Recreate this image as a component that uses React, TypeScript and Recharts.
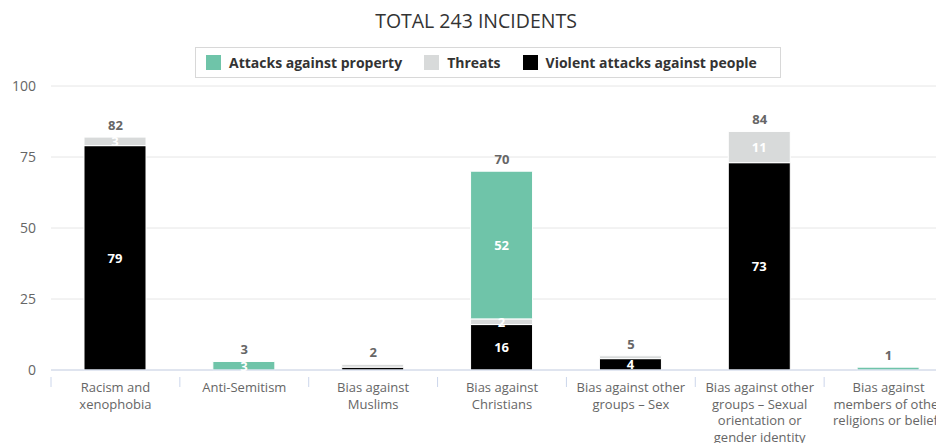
import React from "react";
import { ComposedChart, Bar, Line, XAxis, YAxis, CartesianGrid, LabelList } from "recharts";

const categories = [
  "Racism and\nxenophobia",
  "Anti-Semitism",
  "Bias against\nMuslims",
  "Bias against\nChristians",
  "Bias against other\ngroups – Sex",
  "Bias against other\ngroups – Sexual\norientation or\ngender identity",
  "Bias against\nmembers of other\nreligions or beliefs",
];
const violent = [79, 0, 1, 16, 4, 73, 0];
const threats = [3, 0, 1, 2, 1, 11, 0];
const property = [0, 3, 0, 52, 0, 0, 1];
const yTicks = [0, 25, 50, 75, 100];

const title = "TOTAL 243 INCIDENTS";
const seriesNames = {
  property: "Attacks against property",
  threats: "Threats",
  violent: "Violent attacks against people",
};
const COLORS = { property: "#6fc4a9", threats: "#d8dada", violent: "#000000" };

const data = categories.map((c, i) => ({
  name: c,
  violent: violent[i],
  threats: threats[i],
  property: property[i],
  total: violent[i] + threats[i] + property[i],
}));

const FONT = "'Open Sans', sans-serif";
const CHART_W = 960;
const CHART_H = 435;
const M = { top: 78, right: 15, left: 0, bottom: 0 };
const YW = 43;
const BAND = (CHART_W - M.left - M.right - YW) / categories.length;

// labels of 1-unit segments overlap their neighbours and are hidden, as in the source chart
const InsideLabel = (props: any) => {
  const { x, y, width, height, value } = props;
  if (!value || value < 2) return null;
  return (
    <text
      x={x + width / 2}
      y={y + height / 2}
      dominantBaseline="central"
      textAnchor="middle"
      fill="#ffffff"
      fontSize={13}
      fontWeight={700}
      fontFamily={FONT}
    >
      {value}
    </text>
  );
};

const TotalLabel = (props: any) => {
  const { x, y, value } = props;
  return (
    <text
      x={x}
      y={y - 12}
      dominantBaseline="central"
      textAnchor="middle"
      fill="#666666"
      fontSize={13}
      fontWeight={700}
      fontFamily={FONT}
    >
      {value}
    </text>
  );
};

const CatTick = (props: any) => {
  const { x, y, payload } = props;
  const lines = String(payload.value).split("\n");
  const bx = x - BAND / 2;
  return (
    <g>
      <line x1={bx} y1={y - 1} x2={bx} y2={y + 9} stroke="#ccd6eb" strokeWidth={1} />
      <text textAnchor="middle" fill="#666666" fontSize={13} fontFamily={FONT}>
        {lines.map((l, i) => (
          <tspan key={i} x={x} y={y + 14 + i * 16.7}>
            {l}
          </tspan>
        ))}
      </text>
    </g>
  );
};

const LegendItem = ({ color, label }: { color: string; label: string }) => (
  <div style={{ display: "flex", alignItems: "center", marginRight: 22 }}>
    <div style={{ width: 15, height: 15, background: color, marginRight: 8 }} />
    <span style={{ fontWeight: 700, fontSize: 14, color: "#333333" }}>{label}</span>
  </div>
);

export default function App() {
  return (
    <div
      style={{
        position: "relative",
        width: 936,
        height: CHART_H,
        overflow: "hidden",
        fontFamily: FONT,
        background: "#ffffff",
      }}
    >
      <div
        style={{
          position: "absolute",
          top: 0,
          left: 0,
          width: 936,
          textAlign: "center",
          fontSize: 19.5,
          color: "#333333",
          lineHeight: "26px",
        }}
      >
        {title}
      </div>
      <div
        style={{
          position: "absolute",
          top: 39,
          left: 187,
          width: 586,
          height: 31,
          boxSizing: "border-box",
          border: "1px solid #d8d8d8",
          display: "flex",
          alignItems: "center",
          paddingLeft: 10,
        }}
      >
        <LegendItem color={COLORS.property} label={seriesNames.property} />
        <LegendItem color={COLORS.threats} label={seriesNames.threats} />
        <LegendItem color={COLORS.violent} label={seriesNames.violent} />
      </div>
      <ComposedChart width={CHART_W} height={CHART_H} data={data} margin={M} barSize={62}>
        <CartesianGrid vertical={false} stroke="#e6e6e6" />
        <XAxis
          dataKey="name"
          interval={0}
          height={CHART_H - 362}
          tickLine={false}
          axisLine={{ stroke: "#ccd6eb" }}
          tick={<CatTick />}
        />
        <YAxis
          width={YW}
          domain={[0, 100]}
          ticks={yTicks}
          tickLine={false}
          axisLine={false}
          tickSize={0}
          tickMargin={15}
          tick={{ fill: "#666666", fontSize: 14, fontFamily: FONT }}
        />
        <Bar dataKey="violent" stackId="a" fill={COLORS.violent} stroke="#ffffff" strokeWidth={1} isAnimationActive={false}>
          <LabelList dataKey="violent" content={<InsideLabel />} />
        </Bar>
        <Bar dataKey="threats" stackId="a" fill={COLORS.threats} stroke="#ffffff" strokeWidth={1} isAnimationActive={false}>
          <LabelList dataKey="threats" content={<InsideLabel />} />
        </Bar>
        <Bar dataKey="property" stackId="a" fill={COLORS.property} stroke="#ffffff" strokeWidth={1} isAnimationActive={false}>
          <LabelList dataKey="property" content={<InsideLabel />} />
        </Bar>
        <Line
          dataKey="total"
          stroke="none"
          dot={false}
          activeDot={false}
          legendType="none"
          isAnimationActive={false}
        >
          <LabelList dataKey="total" content={<TotalLabel />} />
        </Line>
      </ComposedChart>
    </div>
  );
}
